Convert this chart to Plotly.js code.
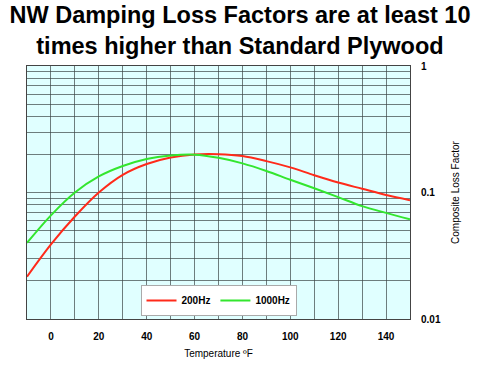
<!DOCTYPE html>
<html>
<head>
<meta charset="utf-8">
<script src="https://cdn.plot.ly/plotly-3.0.1.min.js"></script>
<style>html,body{margin:0;padding:0;background:#fff;}#chart{width:480px;height:366px;}</style>
</head>
<body>
<div id="chart"></div>
<script>
const temperatures = [-10, 0, 10, 20, 30, 40, 50, 60, 70, 80, 90, 100, 110, 120, 130, 140, 150];
const loss200Hz = [0.0216, 0.0389, 0.0646, 0.100, 0.138, 0.168, 0.189, 0.200, 0.201, 0.194, 0.177, 0.158, 0.137, 0.120, 0.107, 0.0955, 0.087];
const loss1000Hz = [0.040, 0.066, 0.100, 0.134, 0.162, 0.184, 0.196, 0.199, 0.188, 0.170, 0.148, 0.126, 0.108, 0.092, 0.078, 0.069, 0.0614];
const seriesNames = ['200Hz', '1000Hz'];
const xTickVals = [-10, 0, 10, 20, 30, 40, 50, 60, 70, 80, 90, 100, 110, 120, 130, 140, 150];
const xTickText = ['', '0', '', '20', '', '40', '', '60', '', '80', '', '100', '', '120', '', '140', ''];
const yTickVals = [0.01,0.02,0.03,0.04,0.05,0.06,0.07,0.08,0.09,0.1,0.2,0.3,0.4,0.5,0.6,0.7,0.8,0.9,1];
const yTickText = ['0.01','','','','','','','','','0.1','','','','','','','','','1'];

const traces = [
  {x: temperatures, y: loss200Hz, name: seriesNames[0], mode: 'lines', line: {color: '#ff2a1a', width: 2, shape: 'spline', smoothing: 1}},
  {x: temperatures, y: loss1000Hz, name: seriesNames[1], mode: 'lines', line: {color: '#33e62e', width: 2, shape: 'spline', smoothing: 1}}
];

const layout = {
  width: 480, height: 366,
  margin: {l: 27, r: 70, t: 66, b: 47},
  paper_bgcolor: '#ffffff',
  plot_bgcolor: '#e0ffff',
  font: {family: 'Liberation Sans, Arial, sans-serif', color: '#000'},
  title: {
    text: 'NW Damping Loss Factors are at least 10<br>times higher than Standard Plywood',
    font: {size: 23.5, weight: 'bold', color: '#000'},
    x: 0.5, xanchor: 'center', y: 0.937, yanchor: 'top', yref: 'container'
  },
  xaxis: {
    range: [-10, 150],
    tickmode: 'array', tickvals: xTickVals, ticktext: xTickText,
    tickfont: {size: 10, weight: 'bold'},
    ticks: '', ticklabelstandoff: 8,
    showgrid: true, gridcolor: 'rgba(60,70,70,0.7)', gridwidth: 1,
    showline: true, linecolor: '#444', linewidth: 1, mirror: true,
    zeroline: false,
    title: {text: 'Temperature ºF', font: {size: 10}, standoff: 8}
  },
  yaxis: {
    type: 'log', range: [-2, 0], side: 'right',
    tickmode: 'array', tickvals: yTickVals, ticktext: yTickText,
    tickfont: {size: 10, weight: 'bold'},
    ticks: '', ticklabelstandoff: 8,
    showgrid: true, gridcolor: 'rgba(60,70,70,0.7)', gridwidth: 1,
    showline: true, linecolor: '#444', linewidth: 1, mirror: true,
    zeroline: false,
    title: {text: 'Composite Loss Factor', font: {size: 10}, standoff: 12}
  },
  showlegend: true,
  legend: {
    orientation: 'h', x: 0.5, xanchor: 'center', y: 0.012, yanchor: 'bottom',
    bgcolor: '#ffffff', bordercolor: '#aaa', borderwidth: 1,
    font: {size: 10, weight: 'bold'}, itemwidth: 30
  }
};

Plotly.newPlot('chart', traces, layout, {displayModeBar: false, staticPlot: true});
</script>
</body>
</html>
